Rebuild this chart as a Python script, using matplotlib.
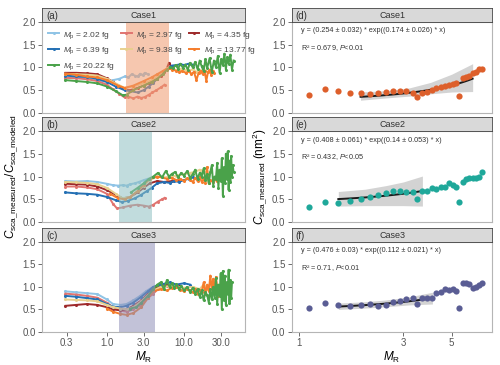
import matplotlib
matplotlib.use("Agg")
import numpy as np
import matplotlib.pyplot as plt

plt.rcParams['font.family'] = ['Liberation Sans', 'DejaVu Sans']
plt.rcParams['mathtext.fontset'] = 'custom'
plt.rcParams['mathtext.rm'] = 'Liberation Sans'
plt.rcParams['mathtext.it'] = 'Liberation Sans:italic'

# ---- series labels / colours
mp_labels = ['2.02', '2.97', '4.35', '6.39', '9.38', '13.77', '20.22']
mp_colors = ['#8fc4e6', '#e07470', '#9e2a2b', '#2470b4', '#e8d08e', '#f57d2c', '#4aa24a']
cases = ['Case1', 'Case2', 'Case3']
left_tags = ['(a)', '(b)', '(c)']
right_tags = ['(d)', '(e)', '(f)']
span_lo = [1.77, 1.45, 1.45]
span_hi = [6.4, 3.84, 4.24]
span_colors = ['#ef9a6e', '#8fc0c2', '#9090b8']

# ---- Case1 ratio curves (x = M_R, y = measured/modeled)
c1_x_202 = [0.29, 0.4, 0.55, 0.75, 1.0, 1.2, 1.45, 1.7, 1.9, 2.1, 2.3, 2.5, 2.7, 2.9, 3.1, 3.4]
c1_y_202 = [0.78, 0.77, 0.76, 0.72, 0.68, 0.72, 0.75, 0.80, 0.78, 0.85, 0.82, 0.80, 0.86, 0.83, 0.88, 0.85]
c1_x_297 = [0.29, 0.4, 0.55, 0.75, 1.0, 1.2, 1.45, 1.7, 1.9, 2.2, 2.5, 2.8, 3.1, 3.5, 3.9, 4.4, 5.0, 5.6]
c1_y_297 = [0.77, 0.76, 0.74, 0.70, 0.62, 0.52, 0.42, 0.34, 0.36, 0.32, 0.36, 0.33, 0.35, 0.40, 0.45, 0.50, 0.56, 0.62]
c1_x_435 = [0.29, 0.4, 0.55, 0.75, 1.0, 1.2, 1.4, 1.7, 2.0, 2.5, 3.0, 3.5, 4.0, 4.5, 5.0, 5.5, 6.0, 6.4, 6.8]
c1_y_435 = [0.88, 0.88, 0.87, 0.85, 0.76, 0.68, 0.60, 0.52, 0.50, 0.55, 0.60, 0.65, 0.70, 0.75, 0.82, 0.90, 0.98, 1.10, 1.02]
c1_x_639 = [0.29, 0.4, 0.55, 0.75, 1.0, 1.3, 1.7, 2.0, 2.5, 3.0, 3.5, 4.0, 4.5, 5.2, 6.0, 7.0, 8.0, 9.0, 10.0, 11.5, 13.0]
c1_y_639 = [0.82, 0.80, 0.79, 0.75, 0.68, 0.58, 0.50, 0.48, 0.45, 0.50, 0.58, 0.66, 0.75, 0.85, 0.96, 1.04, 1.05, 1.07, 1.05, 1.08, 1.06]
c1_x_938 = [0.29, 0.4, 0.55, 0.75, 1.0, 1.4, 1.7, 2.2, 3.0, 3.8, 4.5, 5.3, 6.0, 7.0, 8.0, 9.0, 10.0, 11.5, 13.0, 14.5, 16.0, 17.5, 19.0]
c1_y_938 = [0.86, 0.85, 0.84, 0.82, 0.75, 0.62, 0.55, 0.58, 0.65, 0.72, 0.80, 0.90, 0.98, 0.96, 0.94, 0.97, 0.95, 0.92, 0.96, 0.90, 0.95, 0.88, 0.93]
c1_x_1377 = [0.29, 0.4, 0.55, 0.75, 1.0, 1.4, 1.7, 2.2, 3.0, 3.8, 4.5, 5.3, 6.0, 6.4, 7.0, 7.8, 8.6, 9.5, 10.5, 11.5, 12.5, 13.5, 14.5, 15.5, 16.5, 17.5, 18.5, 19.5, 20.5, 21.5, 22.5, 23.5, 24.5]
c1_y_1377 = [0.86, 0.84, 0.80, 0.78, 0.72, 0.60, 0.55, 0.60, 0.70, 0.78, 0.85, 0.92, 0.97, 0.98, 0.95, 0.93, 0.90, 0.92, 0.88, 0.91, 0.86, 0.90, 0.72, 0.88, 0.92, 0.85, 0.93, 0.70, 0.90, 0.95, 0.84, 0.92, 0.88]
c1_x_2022 = [0.29, 0.4, 0.55, 0.75, 1.0, 1.3, 1.6, 1.8, 2.2, 3.0, 3.8, 4.5, 5.3, 6.0, 6.6, 7.2, 7.8, 8.4, 9.0, 9.7, 10.4, 11.2, 12.0, 13.0, 14.0, 15.0, 16.0, 17.0, 18.0, 19.0, 20.0, 21.5, 23.0, 24.5, 26.0, 27.5, 29.0, 30.5, 32.0, 33.5, 35.0, 36.5, 38.0, 40.0, 42.0, 44.0]
c1_y_2022 = [0.72, 0.70, 0.68, 0.65, 0.58, 0.48, 0.39, 0.40, 0.50, 0.60, 0.68, 0.75, 0.85, 0.95, 1.00, 0.98, 1.05, 0.97, 1.08, 0.99, 1.06, 0.95, 1.10, 1.00, 1.12, 0.96, 1.15, 1.02, 0.92, 1.18, 0.98, 1.20, 0.90, 1.15, 1.00, 1.25, 0.88, 1.18, 1.05, 1.30, 0.95, 1.22, 1.08, 1.28, 0.95, 1.15]

# ---- Case2 ratio curves
c2_x_202 = [0.29, 0.4, 0.55, 0.75, 1.0, 1.2, 1.4, 1.6, 1.8, 2.0, 2.3, 2.6, 3.0, 3.4]
c2_y_202 = [0.90, 0.89, 0.90, 0.88, 0.84, 0.81, 0.80, 0.81, 0.80, 0.83, 0.85, 0.88, 0.92, 0.95]
c2_x_297 = [0.29, 0.4, 0.55, 0.75, 1.0, 1.2, 1.35, 1.6, 2.0, 2.5, 3.0, 3.5, 4.0, 4.6, 5.2, 5.6]
c2_y_297 = [0.78, 0.78, 0.76, 0.72, 0.62, 0.40, 0.30, 0.32, 0.36, 0.38, 0.36, 0.34, 0.38, 0.45, 0.50, 0.53]
c2_x_435 = [0.29, 0.4, 0.55, 0.75, 1.0, 1.3, 1.6, 2.0, 2.5, 3.0, 3.6, 4.5, 5.5, 7.0, 9.0]
c2_y_435 = [0.84, 0.83, 0.82, 0.78, 0.70, 0.60, 0.52, 0.55, 0.65, 0.75, 0.85, 0.90, 0.88, 0.90, 0.92]
c2_x_639 = [0.29, 0.4, 0.55, 0.75, 1.0, 1.3, 1.55, 1.9, 2.3, 2.8, 3.3, 3.8, 4.5, 5.5, 6.5, 7.5, 8.5, 10.0, 11.5, 13.0]
c2_y_639 = [0.65, 0.63, 0.62, 0.60, 0.55, 0.48, 0.44, 0.47, 0.52, 0.60, 0.68, 0.75, 0.85, 0.88, 0.86, 0.90, 0.88, 0.92, 0.95, 0.98]
c2_x_938 = [0.29, 0.4, 0.55, 0.75, 1.0, 1.3, 1.6, 2.0, 2.5, 3.0, 3.6, 4.5, 6.0, 8.0, 10.0, 12.0, 14.0, 16.0, 18.0, 20.0]
c2_y_938 = [0.88, 0.87, 0.86, 0.83, 0.75, 0.62, 0.52, 0.55, 0.68, 0.80, 0.92, 1.00, 0.98, 1.02, 1.05, 1.08, 1.10, 1.15, 1.12, 1.20]
c2_x_1377 = [1.1, 1.4, 1.7, 2.0, 2.5, 3.0, 3.6, 4.5, 6.0, 7.0, 8.0, 9.0, 10.0, 11.0, 12.0, 13.0, 14.0, 15.0, 16.0, 17.0, 18.0, 19.0, 20.0, 21.0, 22.0, 23.5, 25.0, 26.5]
c2_y_1377 = [0.62, 0.52, 0.50, 0.55, 0.68, 0.82, 0.95, 1.00, 0.95, 0.97, 0.92, 0.95, 0.90, 0.96, 0.93, 0.88, 0.97, 0.90, 1.00, 0.88, 0.95, 0.86, 1.20, 0.85, 0.92, 0.88, 0.95, 0.90]
c2_x_2022 = [2.05, 2.5, 3.0, 3.5, 4.0, 4.6, 5.2, 5.8, 6.4, 7.0, 7.7, 8.4, 9.2, 10.0, 11.0, 12.0, 13.0, 14.0, 15.0, 16.0, 17.0, 18.0, 19.0, 20.0, 21.0, 22.0, 23.0, 24.0, 25.0, 26.0, 27.0, 28.0, 29.0, 30.0, 31.0, 32.0, 33.0, 34.0, 35.0, 36.0, 37.0, 38.0, 39.0, 40.0, 41.0, 42.0, 43.0, 44.0]
c2_y_2022 = [0.65, 0.75, 0.85, 0.95, 1.00, 1.08, 0.98, 1.12, 1.00, 1.06, 1.10, 0.98, 1.08, 1.02, 1.12, 0.97, 1.05, 1.15, 0.95, 1.08, 1.00, 1.18, 0.92, 1.05, 0.85, 1.10, 1.25, 0.80, 1.00, 0.95, 1.30, 0.75, 1.15, 0.90, 1.40, 0.58, 1.20, 0.85, 1.50, 0.95, 1.55, 0.70, 1.35, 0.88, 1.45, 1.00, 1.25, 1.10]

# ---- Case3 ratio curves
c3_x_202 = [0.29, 0.4, 0.55, 0.75, 1.0, 1.2, 1.5, 1.8, 2.2, 2.7, 3.2, 3.8, 4.3]
c3_y_202 = [0.90, 0.88, 0.86, 0.84, 0.72, 0.62, 0.60, 0.62, 0.70, 0.80, 0.90, 0.98, 1.02]
c3_x_297 = [0.29, 0.4, 0.55, 0.75, 1.0, 1.2, 1.5, 1.8, 2.2, 2.8, 3.4, 4.0, 4.6, 5.2, 6.0]
c3_y_297 = [0.85, 0.83, 0.80, 0.76, 0.65, 0.55, 0.47, 0.45, 0.50, 0.60, 0.75, 0.85, 0.95, 1.00, 1.02]
c3_x_435 = [0.29, 0.4, 0.55, 0.75, 1.0, 1.2, 1.5, 1.8, 2.2, 2.8, 3.4, 4.0, 5.0, 6.0, 7.5, 9.0]
c3_y_435 = [0.58, 0.60, 0.62, 0.60, 0.55, 0.50, 0.48, 0.50, 0.58, 0.70, 0.85, 0.95, 1.02, 1.05, 1.00, 1.02]
c3_x_639 = [0.29, 0.4, 0.55, 0.75, 1.0, 1.2, 1.5, 1.8, 2.2, 2.8, 3.4, 4.0, 5.0, 6.5, 8.0, 10.0, 12.0]
c3_y_639 = [0.80, 0.78, 0.75, 0.72, 0.62, 0.56, 0.55, 0.58, 0.65, 0.78, 0.90, 1.00, 1.05, 1.10, 1.05, 1.08, 1.05]
c3_x_938 = [0.29, 0.4, 0.55, 0.75, 1.0, 1.2, 1.5, 1.8, 2.2, 2.8, 3.4, 4.0, 5.0, 7.0, 10.0, 13.0, 16.0, 18.0, 20.0]
c3_y_938 = [0.72, 0.71, 0.70, 0.68, 0.60, 0.55, 0.52, 0.50, 0.55, 0.68, 0.82, 0.92, 1.00, 1.02, 0.98, 1.00, 0.95, 1.05, 0.95]
c3_x_1377 = [1.0, 1.2, 1.5, 1.8, 2.2, 2.8, 3.4, 4.0, 5.0, 6.0, 7.0, 8.0, 9.0, 10.0, 11.0, 12.0, 13.0, 14.0, 15.0, 16.0, 17.0, 18.0, 19.0, 20.0, 21.0, 22.0, 23.0, 24.0, 25.0, 26.0, 28.0, 30.0]
c3_y_1377 = [0.52, 0.45, 0.40, 0.38, 0.42, 0.55, 0.75, 0.90, 0.95, 0.92, 0.98, 1.00, 0.94, 0.90, 0.96, 0.92, 0.88, 0.95, 0.85, 0.92, 0.88, 1.10, 0.85, 1.05, 0.90, 1.25, 0.95, 1.18, 0.88, 1.22, 0.80, 1.05]
c3_x_2022 = [2.0, 2.4, 2.8, 3.4, 4.0, 4.5, 5.0, 5.5, 6.0, 6.5, 7.0, 7.5, 8.0, 8.6, 9.2, 10.0, 11.0, 12.0, 13.0, 14.0, 15.0, 16.0, 17.0, 18.0, 19.0, 20.0, 21.0, 22.0, 23.0, 24.0, 25.0, 26.0, 27.0, 28.0, 29.0, 30.0, 31.0, 32.0, 33.0, 34.0, 35.0, 36.0, 37.0, 38.0, 39.0, 40.0, 41.0, 42.0]
c3_y_2022 = [0.52, 0.55, 0.65, 0.80, 0.95, 1.05, 1.10, 0.95, 1.15, 1.00, 1.08, 0.98, 1.06, 0.95, 1.02, 0.92, 1.00, 0.88, 0.98, 0.85, 0.95, 0.78, 0.92, 0.70, 0.88, 0.82, 0.65, 0.95, 0.72, 1.00, 0.75, 1.20, 0.62, 1.05, 0.80, 1.30, 0.50, 1.35, 0.70, 1.25, 0.60, 1.10, 0.85, 1.38, 0.65, 1.15, 0.75, 1.10]

case_x = [[c1_x_202, c1_x_297, c1_x_435, c1_x_639, c1_x_938, c1_x_1377, c1_x_2022],
          [c2_x_202, c2_x_297, c2_x_435, c2_x_639, c2_x_938, c2_x_1377, c2_x_2022],
          [c3_x_202, c3_x_297, c3_x_435, c3_x_639, c3_x_938, c3_x_1377, c3_x_2022]]
case_y = [[c1_y_202, c1_y_297, c1_y_435, c1_y_639, c1_y_938, c1_y_1377, c1_y_2022],
          [c2_y_202, c2_y_297, c2_y_435, c2_y_639, c2_y_938, c2_y_1377, c2_y_2022],
          [c3_y_202, c3_y_297, c3_y_435, c3_y_639, c3_y_938, c3_y_1377, c3_y_2022]]

# ---- right panels: measured C_sca (nm^2) vs M_R
mr_bins = [1.11, 1.31, 1.51, 1.71, 1.91, 2.10, 2.29, 2.50, 2.70, 2.90, 3.09, 3.31, 3.48, 3.67, 3.87,
           4.08, 4.25, 4.45, 4.66, 4.86, 5.06, 5.24, 5.43, 5.62, 5.82, 6.03, 6.24, 6.46, 6.69, 6.88]
csca_case1 = [0.39, 0.52, 0.48, 0.445, 0.43, 0.415, 0.43, 0.47, 0.49, 0.49, 0.48, 0.445, 0.36, 0.445, 0.47,
              0.50, 0.54, 0.56, 0.59, 0.61, 0.635, 0.65, 0.37, 0.76, 0.78, 0.81, 0.87, 0.905, 0.96, 0.96]
csca_case2 = [0.32, 0.45, 0.425, 0.47, 0.505, 0.56, 0.59, 0.645, 0.68, 0.68, 0.67, 0.65, 0.51, 0.69, 0.69,
              0.74, 0.73, 0.78, 0.78, 0.85, 0.81, 0.76, 0.43, 0.89, 0.94, 0.96, 0.96, 0.97, 1.00, 1.10]
csca_case3 = [0.525, 0.65, 0.60, 0.575, 0.60, 0.61, 0.58, 0.60, 0.665, 0.69, 0.72, 0.75, 0.61, 0.75, 0.755,
              0.755, 0.86, 0.88, 0.955, 0.94, 0.955, 0.90, 0.525, 1.08, 1.08, 1.065, 0.97, 1.00, 1.04, 1.085]
csca = [csca_case1, csca_case2, csca_case3]
dot_colors = ['#dd5f2b', '#1fa89a', '#5a5d94']

# fitted y = a*exp(b*x)
fit_a = [0.254, 0.408, 0.476]
fit_da = [0.032, 0.061, 0.03]
fit_b = [0.174, 0.14, 0.112]
fit_db = [0.026, 0.053, 0.021]
fit_r2 = ['0.679', '0.432', '0.71']
fit_p = ['<0.01', '<0.05', '<0.01']
fit_from = [1.91, 1.51, 1.51]
fit_to = [6.24, 3.67, 4.08]
# confidence band
band_x = [[1.91, 2.5, 3.2, 4.0, 5.0, 6.24], [1.51, 2.0, 2.5, 3.0, 3.67], [1.51, 2.0, 2.5, 3.2, 4.08]]
band_lo = [[0.28, 0.33, 0.37, 0.42, 0.46, 0.47], [0.35, 0.36, 0.36, 0.36, 0.35], [0.50, 0.53, 0.56, 0.60, 0.62]]
band_hi = [[0.46, 0.49, 0.55, 0.67, 0.85, 1.08], [0.67, 0.72, 0.80, 0.88, 1.01], [0.64, 0.67, 0.71, 0.78, 0.88]]

# ---- layout
fig = plt.figure(figsize=(5.0, 3.65), dpi=100)
W, H = 500.0, 365.0
ax_top = [21.7, 131.0, 241.7]
ax_bot = [113.0, 222.0, 332.0]
strip_h = 13.5
tick_col = '#555555'


def make_axes(x0, x1, r):
    ax = fig.add_axes([x0 / W, 1 - ax_bot[r] / H, (x1 - x0) / W, (ax_bot[r] - ax_top[r]) / H])
    st = fig.add_axes([x0 / W, 1 - ax_top[r] / H, (x1 - x0) / W, strip_h / H])
    st.set_facecolor('#d9d9d9')
    st.set_xticks([])
    st.set_yticks([])
    for s in st.spines.values():
        s.set_color('#444444')
        s.set_linewidth(0.6)
    for s in ax.spines.values():
        s.set_color('#b5b5b5')
        s.set_linewidth(0.8)
    ax.tick_params(direction='out', length=3, width=0.6, color='#555555',
                   labelsize=7, labelcolor=tick_col, pad=1.5)
    ax.set_ylim(0, 2.0)
    ax.set_yticks([0, 0.5, 1.0, 1.5, 2.0])
    ax.set_yticklabels(['0.0', '0.5', '1.0', '1.5', '2.0'])
    return ax, st


legend_handles = []
for r in range(3):
    ax, st = make_axes(42.3, 245.0, r)
    st.text(0.02, 0.45, left_tags[r], transform=st.transAxes, fontsize=7, color='#333333', va='center')
    st.text(0.5, 0.45, cases[r], transform=st.transAxes, fontsize=6.5, color='#333333', va='center', ha='center')
    for k in range(7):
        ln, = ax.plot(case_x[r][k], case_y[r][k], color=mp_colors[k], lw=1.4, marker='o',
                      ms=1.2, zorder=2)
        if r == 0:
            legend_handles.append(ln)
    ax.axvspan(span_lo[r], span_hi[r], color=span_colors[r], alpha=0.55, lw=0, zorder=3)
    ax.set_xscale('log')
    ax.set_xlim(0.145, 62)
    ax.minorticks_off()
    if r == 2:
        ax.set_xticks([0.3, 1, 3, 10, 30])
        ax.set_xticklabels(['0.3', '1.0', '3.0', '10.0', '30.0'])
        ax.set_xlabel(r'$M_\mathrm{R}$', fontsize=8.5, labelpad=1)
    else:
        ax.set_xticks([])
    if r == 1:
        ax.set_ylabel(r'$C_\mathrm{sca\_measured}/C_\mathrm{sca\_modeled}$', fontsize=8.5, labelpad=2)
    if r == 0:
        order = [0, 3, 6, 1, 4, 2, 5]
        labs = [r'$M_\mathrm{p}$ = ' + mp_labels[i] + ' fg' for i in range(7)]
        leg = ax.legend([legend_handles[i] for i in order], [labs[i] for i in order], ncol=3,
                        loc='upper left', bbox_to_anchor=(0.0, 0.975), frameon=False, fontsize=6.0,
                        handlelength=1.3, handletextpad=0.5, columnspacing=0.7, labelspacing=0.6,
                        borderaxespad=0.3)
        for t in leg.get_texts():
            t.set_color('#444444')

for r in range(3):
    ax, st = make_axes(291.7, 492.3, r)
    st.text(0.02, 0.45, right_tags[r], transform=st.transAxes, fontsize=7, color='#333333', va='center')
    st.text(0.5, 0.45, cases[r], transform=st.transAxes, fontsize=6.5, color='#333333', va='center', ha='center')
    ax.fill_between(band_x[r], band_lo[r], band_hi[r], color='#d3d3d3', lw=0, zorder=1)
    xf = np.linspace(fit_from[r], fit_to[r], 60)
    ax.plot(xf, fit_a[r] * np.exp(fit_b[r] * xf), color='#1a1a1a', lw=1.4, zorder=3)
    ax.scatter(mr_bins, csca[r], s=20, color=dot_colors[r], lw=0, zorder=4)
    ax.set_xscale('log')
    ax.set_xlim(0.923, 7.68)
    ax.minorticks_off()
    eq = 'y = (%s ± %s) * exp((%s ± %s) * x)' % (fit_a[r], fit_da[r], fit_b[r], fit_db[r])
    ax.text(0.045, 0.9, eq, transform=ax.transAxes, fontsize=5.2, color='#333333', va='center')
    ax.text(0.045, 0.71, 'R² = %s, $P$%s' % (fit_r2[r], fit_p[r]), transform=ax.transAxes,
            fontsize=5.2, color='#333333', va='center')
    if r == 2:
        ax.set_xticks([1, 3, 5])
        ax.set_xticklabels(['1', '3', '5'])
        ax.set_xlabel(r'$M_\mathrm{R}$', fontsize=8.5, labelpad=1)
    else:
        ax.set_xticks([])
    if r == 1:
        ax.set_ylabel(r'$C_\mathrm{sca\_measured}\ (\mathrm{nm}^2)$', fontsize=8.5, labelpad=2)

fig.savefig('out.png', dpi=100)
